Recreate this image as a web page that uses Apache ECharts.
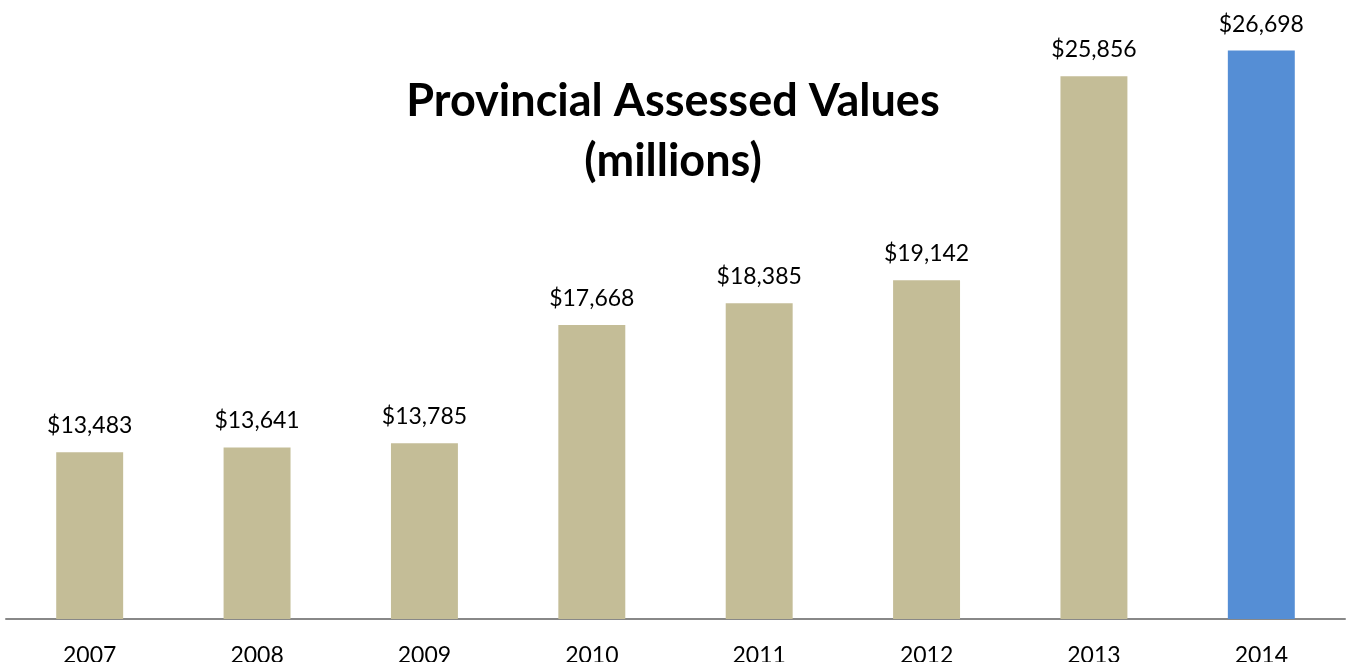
<!DOCTYPE html>
<html>
<head>
<meta charset="utf-8">
<script src="https://cdn.jsdelivr.net/npm/echarts@6/dist/echarts.min.js"></script>
<style>html,body{margin:0;padding:0;background:#fff;}#c{width:1351px;height:662px;}</style>
</head>
<body>
<div id="c"></div>
<script>
var categories = ['2007','2008','2009','2010','2011','2012','2013','2014'];
var values = [13483, 13641, 13785, 17668, 18385, 19142, 25856, 26698];
var barColors = ['#C4BD97','#C4BD97','#C4BD97','#C4BD97','#C4BD97','#C4BD97','#C4BD97','#558ED5'];
var titleLines = ['Provincial Assessed Values', '(millions)'];

var chart = echarts.init(document.getElementById('c'));
var fmt = function (v) { return '$' + v.toLocaleString('en-US'); };
chart.setOption({
  animation: false,
  title: {
    text: titleLines.join('\n'),
    left: 668, top: 66, textAlign: 'center',
    textStyle: { fontFamily: 'Lato', fontWeight: 'bold', fontSize: 45, lineHeight: 60, color: '#000' }
  },
  grid: { left: 6, right: 6, top: 11, bottom: 43, outerBoundsMode: 'none', containLabel: false },
  xAxis: {
    type: 'category', data: categories,
    axisLine: { lineStyle: { color: '#888888', width: 2 } },
    axisTick: { show: false },
    axisLabel: { fontFamily: 'Lato', fontSize: 23, color: '#000', margin: 25 }
  },
  yAxis: {
    type: 'value', min: 8000, max: 28000, show: false,
    splitLine: { show: false }
  },
  series: [{
    type: 'bar', barWidth: '40%',
    data: values.map(function (v, i) { return { value: v, itemStyle: { color: barColors[i] } }; }),
    label: { show: true, position: 'top', distance: 15, fontFamily: 'Lato', fontSize: 23, color: '#000',
      formatter: function (p) { return fmt(p.value); } }
  }]
});
</script>
</body>
</html>
